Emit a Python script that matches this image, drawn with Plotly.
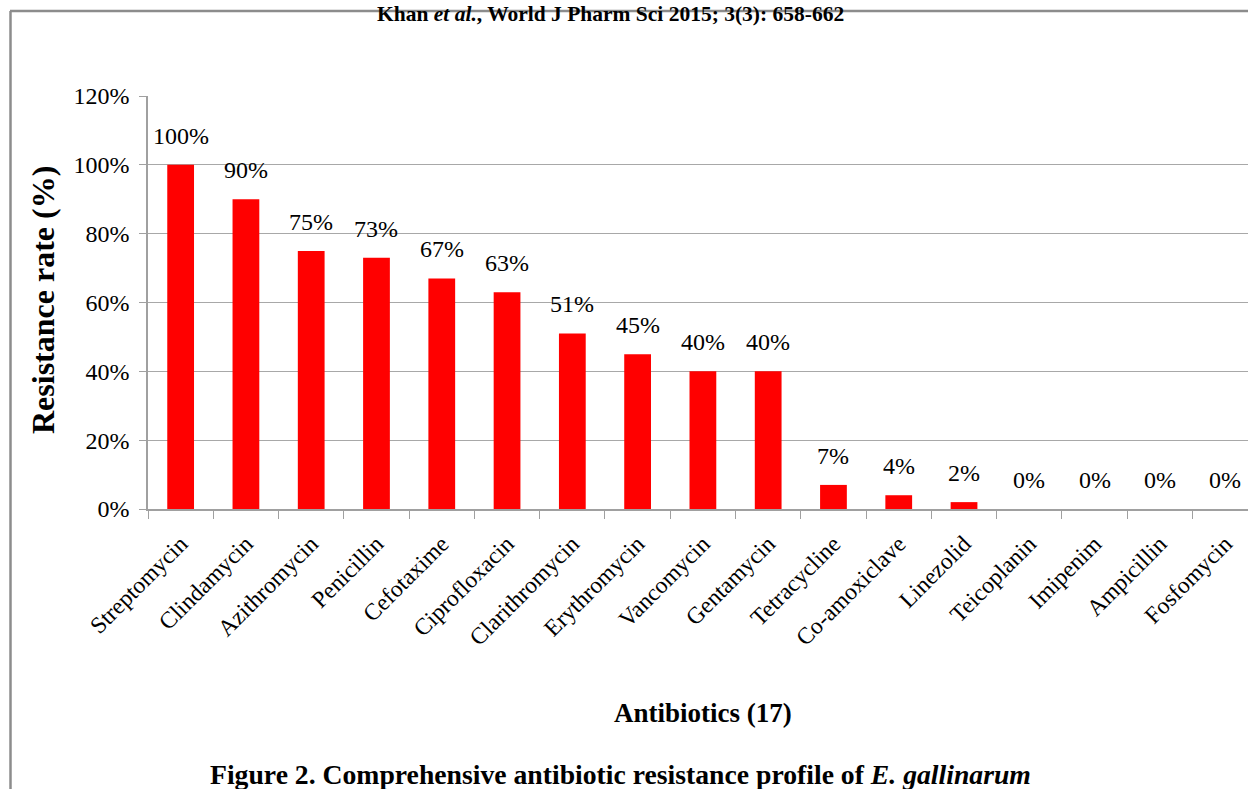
import plotly.graph_objects as go

antibiotics = ["Streptomycin", "Clindamycin", "Azithromycin", "Penicillin", "Cefotaxime",
               "Ciprofloxacin", "Clarithromycin", "Erythromycin", "Vancomycin", "Gentamycin",
               "Tetracycline", "Co-amoxiclave", "Linezolid", "Teicoplanin", "Imipenim",
               "Ampicillin", "Fosfomycin"]
resistance = [100, 90, 75, 73, 67, 63, 51, 45, 40, 40, 7, 4, 2, 0, 0, 0, 0]
y_ticks = [0, 20, 40, 60, 80, 100, 120]
y_tick_text = [f"{v}%" for v in y_ticks]

W, H = 1248, 789
L, R, T, B = 148, 0, 96, 280
PW, PH = W - L - R, H - T - B

def px(x):
    return (x - L) / PW

def py(y):
    return (H - B - y) / PH

FONT = "Liberation Serif, Times New Roman, serif"

fig = go.Figure()
fig.add_trace(go.Bar(
    x=antibiotics, y=resistance,
    marker=dict(color="#ff0000", line=dict(width=0)),
    width=0.41, hoverinfo="skip",
))

for name, val in zip(antibiotics, resistance):
    fig.add_annotation(x=name, y=val, xref="x", yref="y", text=f"{val}%",
                       showarrow=False, xanchor="center", yanchor="bottom", yshift=14,
                       font=dict(family=FONT, size=24, color="#000"))

# titles
fig.add_annotation(x=px(43), y=py(300), xref="paper", yref="paper",
                   xanchor="center", yanchor="middle",
                   text="<b>Resistance rate (%)</b>", textangle=-90, showarrow=False,
                   font=dict(family=FONT, size=32, color="#000"))
fig.add_annotation(x=px(703), y=py(713), xref="paper", yref="paper",
                   xanchor="center", yanchor="middle",
                   text="<b>Antibiotics (17)</b>", showarrow=False,
                   font=dict(family=FONT, size=27, color="#000"))
fig.add_annotation(x=px(620), y=py(774), xref="paper", yref="paper",
                   xanchor="center", yanchor="middle",
                   text="<b>Figure 2. Comprehensive antibiotic resistance profile of <i>E. gallinarum</i></b>",
                   showarrow=False, font=dict(family=FONT, size=27.7, color="#000"))
fig.add_annotation(x=px(610), y=py(0), xref="paper", yref="paper",
                   xanchor="center", yanchor="top",
                   text="<b>Khan <i>et al.</i>, World J Pharm Sci 2015; 3(3): 658-662</b>",
                   showarrow=False, font=dict(family=FONT, size=21.5, color="#000"))

# page border lines
fig.add_shape(type="line", xref="paper", yref="paper", x0=px(10), x1=px(1248), y0=py(11), y1=py(11),
              line=dict(color="#8c8c8c", width=2.5))
fig.add_shape(type="line", xref="paper", yref="paper", x0=px(10.5), x1=px(10.5), y0=py(11), y1=py(789),
              line=dict(color="#8c8c8c", width=2.5))

fig.update_layout(
    width=W, height=H,
    margin=dict(l=L, r=R, t=T, b=B, autoexpand=False),
    paper_bgcolor="white", plot_bgcolor="white",
    showlegend=False,
    font=dict(family=FONT, color="#000"),
    xaxis=dict(
        range=[-0.5, 16.35], tickangle=-45, tickson="boundaries",
        ticks="outside", ticklen=8, tickcolor="#a0a0a0", tickwidth=1,
        showline=True, linecolor="#a0a0a0", linewidth=1.5,
        showgrid=False, tickfont=dict(family=FONT, size=23.5, color="#000"),
        ticklabelstandoff=10, automargin=False,
    ),
    yaxis=dict(
        range=[0, 120], tickvals=y_ticks, ticktext=y_tick_text,
        ticks="outside", ticklen=7, tickcolor="#a0a0a0", tickwidth=1,
        showline=True, linecolor="#a0a0a0", linewidth=1.5,
        showgrid=True, gridcolor="#a8a8a8", gridwidth=1.2, zeroline=False,
        tickfont=dict(family=FONT, size=24, color="#000"),
        ticklabelstandoff=5, automargin=False,
    ),
)

fig.write_html("out.html", config={"displayModeBar": False},
               post_script="document.body.style.margin='0';document.body.style.overflow='hidden';")
